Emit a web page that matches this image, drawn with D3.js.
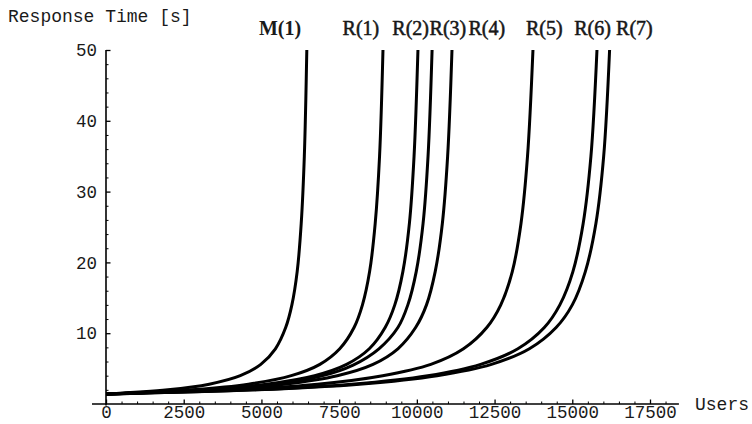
<!DOCTYPE html>
<html>
<head>
<meta charset="utf-8">
<script src="https://cdn.jsdelivr.net/npm/d3@7"></script>
<style>
  body { margin: 0; background: #fff; }
  svg text { font-family: "Liberation Mono", "Courier New", monospace; fill: #1a1a1a; }
  .curve-label { font-family: "Liberation Serif", "Times New Roman", serif; font-size: 20px; }
</style>
</head>
<body>
<svg width="752" height="424"></svg>
<script>
var curveNames = ["M(1)", "R(1)", "R(2)", "R(3)", "R(4)", "R(5)", "R(6)", "R(7)"];

// users on the x axis, one list per curve
var users = [
  [0, 1990, 3320, 4320, 4980, 5450, 5780, 5980, 6150, 6280, 6380, 6460],
  [0, 2750, 4580, 5960, 6880, 7520, 7980, 8250, 8480, 8660, 8800, 8910],
  [0, 3100, 5160, 6710, 7740, 8470, 8980, 9290, 9550, 9760, 9910, 10035],
  [0, 3240, 5390, 6880, 7950, 8780, 9390, 9710, 9980, 10200, 10360, 10490],
  [0, 3440, 5730, 7440, 8590, 9390, 9960, 10310, 10590, 10820, 10990, 11130],
  [0, 4000, 6800, 8900, 10450, 11500, 12250, 12700, 13070, 13350, 13560, 13735],
  [0, 4700, 7900, 10350, 12050, 13250, 14100, 14600, 15020, 15350, 15600, 15794],
  [0, 4850, 8150, 10650, 12400, 13620, 14480, 15000, 15420, 15760, 16010, 16200]
];

// response time [s] read at those users
var responseTime = [
  [1.4, 2.0, 2.8, 4.0, 5.6, 7.8, 10.8, 14.0, 18.7, 25.5, 35, 50],
  [1.4, 2.0, 2.8, 4.0, 5.6, 7.8, 10.8, 14.0, 18.7, 25.5, 35, 50],
  [1.4, 2.0, 2.8, 4.0, 5.6, 7.8, 10.8, 14.0, 18.7, 25.5, 35, 50],
  [1.4, 2.0, 2.8, 3.9, 5.5, 7.8, 10.8, 14.0, 18.7, 25.5, 35, 50],
  [1.4, 2.0, 2.8, 4.0, 5.6, 7.8, 10.8, 14.0, 18.7, 25.5, 35, 50],
  [1.4, 2.0, 2.8, 4.0, 5.6, 7.8, 10.8, 14.0, 18.7, 25.5, 35, 50],
  [1.4, 2.0, 2.8, 4.0, 5.6, 7.8, 10.8, 14.0, 18.7, 25.5, 35, 50],
  [1.4, 2.0, 2.8, 4.0, 5.6, 7.8, 10.8, 14.0, 18.7, 25.5, 35, 50]
];

// where the curve names sit, in users
var labelUsers = [5600, 8200, 9800, 11000, 12250, 14100, 15650, 17000];

var xTicks = [0, 2500, 5000, 7500, 10000, 12500, 15000, 17500];
var yTicks = [10, 20, 30, 40, 50];

var svg = d3.select("svg");

var x = d3.scaleLinear().domain([0, 17500]).range([106, 650]);
var y = d3.scaleLinear().domain([0, 50]).range([404, 50]);

var xMinor = d3.range(0, 18500, 500).filter(function(d) { return d % 2500 !== 0; });
var yMinor = d3.range(2, 50, 2).filter(function(d) { return d % 10 !== 0; });

// axis lines
svg.append("line")
   .attr("x1", x(-450)).attr("x2", x(18430))
   .attr("y1", y(0)).attr("y2", y(0))
   .attr("stroke", "#000").attr("stroke-width", 1.6);

svg.append("line")
   .attr("x1", x(0)).attr("x2", x(0))
   .attr("y1", y(50)).attr("y2", y(0) + 1.5)
   .attr("stroke", "#000").attr("stroke-width", 1.6);

// x ticks
var xAxis = svg.append("g")
   .attr("transform", "translate(0," + y(0) + ")")
   .call(d3.axisBottom(x).tickValues(xTicks).tickFormat(d3.format("d"))
           .tickSizeInner(-4.5).tickSizeOuter(0).tickPadding(2));
xAxis.select(".domain").remove();
xAxis.selectAll("text").style("font-size", "17.5px").style("font-family", null);
xAxis.selectAll("line").attr("stroke-width", 1.3);

var xAxisMinor = svg.append("g")
   .attr("transform", "translate(0," + y(0) + ")")
   .call(d3.axisBottom(x).tickValues(xMinor).tickSizeInner(-2.5).tickSizeOuter(0).tickFormat(""));
xAxisMinor.select(".domain").remove();

// y ticks
var yAxis = svg.append("g")
   .attr("transform", "translate(" + x(0) + ",0)")
   .call(d3.axisLeft(y).tickValues(yTicks).tickFormat(d3.format("d"))
           .tickSizeInner(-4.5).tickSizeOuter(0).tickPadding(9));
yAxis.select(".domain").remove();
yAxis.selectAll("text").style("font-size", "17.5px").style("font-family", null);
yAxis.selectAll("line").attr("stroke-width", 1.3);

var yAxisMinor = svg.append("g")
   .attr("transform", "translate(" + x(0) + ",0)")
   .call(d3.axisLeft(y).tickValues(yMinor).tickSizeInner(-2.5).tickSizeOuter(0).tickFormat(""));
yAxisMinor.select(".domain").remove();

// axis titles
svg.append("text")
   .attr("x", 8).attr("y", 22)
   .style("font-size", "18px")
   .text("Response Time [s]");

svg.append("text")
   .attr("x", 695).attr("y", 410)
   .style("font-size", "18px")
   .text("Users");

// curves
var line = d3.line()
   .x(function(d) { return x(d[0]); })
   .y(function(d) { return y(d[1]); })
   .curve(d3.curveCatmullRom.alpha(0.5));

var curves = curveNames.map(function(name, i) {
  return users[i].map(function(u, j) { return [u, responseTime[i][j]]; });
});

svg.selectAll(".curve")
   .data(curves)
   .enter().append("path")
   .attr("class", "curve")
   .attr("fill", "none")
   .attr("stroke", "#000")
   .attr("stroke-width", 3)
   .attr("d", line);

svg.selectAll(".curve-label")
   .data(curveNames)
   .enter().append("text")
   .attr("class", "curve-label")
   .attr("x", function(d, i) { return x(labelUsers[i]); })
   .attr("y", 35)
   .attr("text-anchor", "middle")
   .style("font-weight", function(d, i) { return i === 0 ? "bold" : "normal"; })
   .style("stroke", "#111")
   .style("stroke-width", function(d, i) { return i === 0 ? 0 : 0.5; })
   .text(function(d) { return d; });
</script>
</body>
</html>
